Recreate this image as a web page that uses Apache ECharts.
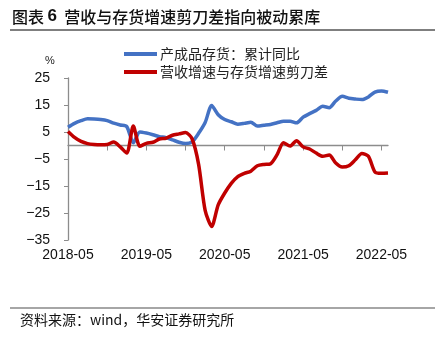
<!DOCTYPE html>
<html><head><meta charset="utf-8">
<script src="https://cdn.jsdelivr.net/npm/echarts@6/dist/echarts.min.js"></script>
<style>html,body{margin:0;padding:0;background:#fff}#c{width:435px;height:337px}</style>
</head><body><div id="c"></div>
<script>
var months = ['2018-05','2018-06','2018-07','2018-08','2018-09','2018-10','2018-11','2018-12',
 '2019-01','2019-02','2019-03','2019-04','2019-05','2019-06','2019-07','2019-08','2019-09','2019-10','2019-11','2019-12',
 '2020-01','2020-02','2020-03','2020-04','2020-05','2020-06','2020-07','2020-08','2020-09','2020-10','2020-11','2020-12',
 '2021-01','2021-02','2021-03','2021-04','2021-05','2021-06','2021-07','2021-08','2021-09','2021-10','2021-11','2021-12',
 '2022-01','2022-02','2022-03','2022-04','2022-05','2022-06'];
var inventoryYoY = [6.8,8.2,9.2,9.9,9.8,9.6,9.2,8.3,7.6,7.0,1.0,5.0,4.6,4.0,3.3,2.9,2.1,1.2,0.7,1.3,
 4.5,8.5,14.8,11.4,9.6,8.8,7.9,8.2,8.6,7.2,7.5,7.8,8.4,9.0,9.0,8.4,10.5,11.8,13.0,14.5,
 14.0,16.5,18.2,17.5,17.2,17.0,18.0,19.8,20.2,19.7];
var scissorGap = [5.2,3.0,1.5,0.7,0.4,0.3,0.4,1.3,-0.5,-2.8,7.2,-0.3,0.8,1.2,2.4,2.7,3.8,4.3,4.8,2.5,
 -7,-24,-30,-22,-17.6,-14,-11.5,-10.3,-9.5,-7.5,-7.0,-6.8,-3.5,1.0,-0.2,1.8,-0.5,-1.3,-2.8,-4.0,
 -3.5,-6.5,-8.0,-7.5,-5.3,-3.0,-4.0,-9.8,-10.3,-10.2];
var seriesNames = ['产成品存货：累计同比','营收增速与存货增速剪刀差'];
var titlePrefix = '图表 ';
var titleNum = '6';
var titleMain = '  营收与存货增速剪刀差指向被动累库';
var sourceText = '资料来源：wind，华安证券研究所';

var chart = echarts.init(document.getElementById('c'), null, {renderer:'canvas'});
var axisGray = '#8c8c8c';
chart.setOption({
  animation:false,
  grid:{left:68,right:47,top:78,bottom:97},
  legend:{
    orient:'vertical', left:119, top:42, itemWidth:33, itemHeight:4, itemGap:4,
    icon:'rect',
    textStyle:{fontFamily:'Noto Sans CJK SC',fontSize:14,color:'#222',padding:[0,0,0,-2]},
    data:seriesNames
  },
  xAxis:[{
    type:'category', data:months, boundaryGap:false, position:'bottom',
    axisLine:{show:false,onZero:false}, axisTick:{show:false},
    axisLabel:{interval:11, margin:8, fontFamily:'Liberation Sans', fontSize:14, color:'#111'}
  },{
    type:'category', data:months, boundaryGap:false, position:'top',
    axisLine:{show:true,onZero:true,lineStyle:{color:axisGray,width:1.3}},
    axisTick:{show:true,inside:true,interval:5,length:5,lineStyle:{color:axisGray}},
    axisLabel:{show:false}
  }],
  yAxis:{
    type:'value', min:-35, max:25, interval:10,
    splitLine:{show:false},
    axisLine:{show:true,lineStyle:{color:axisGray,width:1.3}},
    axisTick:{show:true,length:4,lineStyle:{color:axisGray}},
    axisLabel:{margin:18,fontFamily:'Liberation Sans',fontSize:14,color:'#111',
      formatter:function(v){return String(v).replace('-','\u2212');}}
  },
  series:[{
    name:seriesNames[0], type:'line', data:inventoryYoY, smooth:0.25, symbol:'none',
    lineStyle:{color:'#4472C4',width:3.5}, itemStyle:{color:'#4472C4'}, z:3
  },{
    name:seriesNames[1], type:'line', data:scissorGap, smooth:0.25, symbol:'none',
    lineStyle:{color:'#C00000',width:3.5}, itemStyle:{color:'#C00000'}, z:4
  }],
  graphic:[
    {type:'text', left:12, top:8, style:{
      text:'{a|' + titlePrefix + '}{b|' + titleNum + '}{a|' + titleMain + '}',
      rich:{
        a:{fontFamily:'Noto Sans CJK SC', fontWeight:500, fontSize:16, fill:'#111', color:'#111'},
        b:{fontFamily:'Liberation Sans', fontWeight:'bold', fontSize:17, fill:'#111', color:'#111'}
      }}},
    {type:'line', shape:{x1:10,y1:30,x2:435,y2:30}, style:{stroke:'#555',lineWidth:1.5}},
    {type:'text', left:45, top:55, style:{text:'%', font:'11px "Liberation Sans"', fill:'#222'}},
    {type:'line', shape:{x1:10,y1:308,x2:435,y2:308}, style:{stroke:'#888',lineWidth:1.5}},
    {type:'text', left:20, top:313, style:{text:sourceText, font:'14px "Noto Sans CJK SC"', fill:'#111'}}
  ]
});
</script></body></html>
